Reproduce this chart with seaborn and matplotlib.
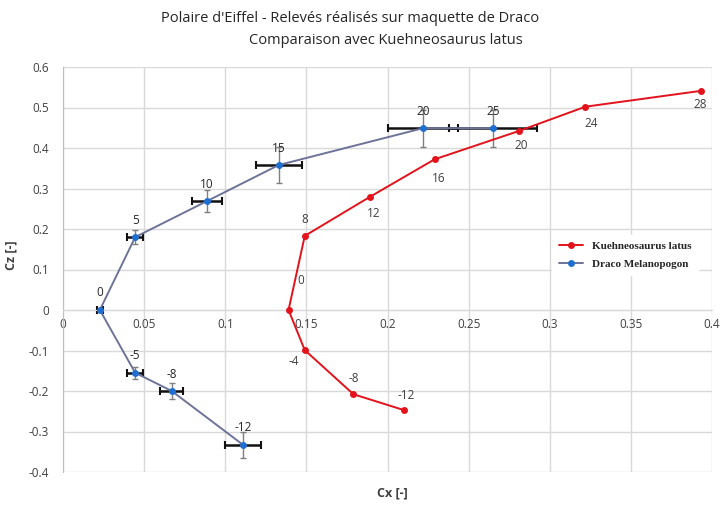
import numpy as np
import pandas as pd
import matplotlib
matplotlib.use('Agg')
import matplotlib.pyplot as plt
import seaborn as sns

# Kuehneosaurus latus (red)
red_aoa = [-12, -8, -4, 0, 8, 12, 16, 20, 24, 28]
red_cx = [0.210, 0.179, 0.149, 0.139, 0.149, 0.189, 0.229, 0.281, 0.322, 0.393]
red_cz = [-0.247, -0.208, -0.099, 0.0, 0.183, 0.279, 0.372, 0.442, 0.502, 0.541]

# Draco Melanopogon (blue)
blue_aoa = [-12, -8, -5, 0, 5, 10, 15, 20, 25]
blue_cx = [0.111, 0.067, 0.0445, 0.0227, 0.0445, 0.0888, 0.133, 0.222, 0.265]
blue_cz = [-0.333, -0.200, -0.155, 0.0, 0.180, 0.269, 0.358, 0.449, 0.449]
blue_cx_err = [0.0112, 0.007, 0.005, 0.002, 0.005, 0.0095, 0.014, 0.0215, 0.0272]
blue_cz_err = [0.032, 0.020, 0.015, 0.003, 0.018, 0.027, 0.044, 0.046, 0.046]

x_ticks = [0, 0.05, 0.1, 0.15, 0.2, 0.25, 0.3, 0.35, 0.4]
y_ticks = [-0.4, -0.3, -0.2, -0.1, 0, 0.1, 0.2, 0.3, 0.4, 0.5, 0.6]

red_df = pd.DataFrame({'aoa': red_aoa, 'Cx': red_cx, 'Cz': red_cz})
blue_df = pd.DataFrame({'aoa': blue_aoa, 'Cx': blue_cx, 'Cz': blue_cz})

sns.set_style('white')
plt.rcParams['font.family'] = ['Open Sans', 'DejaVu Sans']

fig = plt.figure(figsize=(7.24, 5.07), dpi=100)
ax = fig.add_axes([63 / 724, 1 - 472 / 507, 649 / 724, 405 / 507])

grid_c = '#d9d9d9'
ax.grid(True, color=grid_c, linewidth=1)
ax.set_axisbelow(True)

# error bars for Draco
ax.errorbar(blue_df['Cx'], blue_df['Cz'], yerr=blue_cz_err, fmt='none',
            ecolor='#7f7f7f', elinewidth=1, capsize=2, capthick=1, zorder=2)
ax.errorbar(blue_df['Cx'], blue_df['Cz'], xerr=blue_cx_err, fmt='none',
            ecolor='#111111', elinewidth=1.8, capsize=3, capthick=1.5, zorder=2)

sns.lineplot(ax=ax, data=red_df, x='Cx', y='Cz', sort=False, estimator=None,
             color='#e3121b', marker='o', markersize=5, markeredgewidth=0,
             linewidth=1.4, label='Kuehneosaurus latus', zorder=3)
sns.lineplot(ax=ax, data=blue_df, x='Cx', y='Cz', sort=False, estimator=None,
             color='#6e7399', marker='o', markersize=5, markerfacecolor='#1f6fd0',
             markeredgewidth=0, linewidth=1.4, label='Draco Melanopogon', zorder=3)

# point labels
red_offsets = [(2, 15), (0, 16), (-11, -11), (12, 29), (0, 16), (4, -16),
               (4, -19), (2, -15), (6, -17), (0, -14)]
for a, cx, cz, off in zip(red_aoa, red_cx, red_cz, red_offsets):
    ax.annotate(str(a), (cx, cz), xytext=off, textcoords='offset pixels',
                ha='center', va='center', fontsize=8.5, color='#404040')
for a, cx, cz in zip(blue_aoa, blue_cx, blue_cz):
    ax.annotate(str(a), (cx, cz), xytext=(0, 17), textcoords='offset pixels',
                ha='center', va='center', fontsize=8.5, color='#262626')

ax.set_xlim(0, 0.4)
ax.set_ylim(-0.4, 0.6)
ax.set_xticks(x_ticks)
ax.set_xticklabels([f'{t:g}' for t in x_ticks])
ax.set_yticks(y_ticks)
ax.set_yticklabels([f'{t:g}' for t in y_ticks])
ax.tick_params(axis='both', length=0, labelsize=8.5, colors='#404040')
ax.tick_params(axis='y', pad=10)
ax.tick_params(axis='x', pad=6)

ax.spines['bottom'].set_position(('data', 0))
ax.spines['bottom'].set_color(grid_c)
for s in ['top', 'right']:
    ax.spines[s].set_visible(False)
ax.spines['left'].set_color('#bfbfbf')
ax.set_xlabel('')
ax.set_ylabel('')

ax.text(0.508, -0.052, 'Cx [-]', transform=ax.transAxes, ha='center', va='center',
        fontsize=9, color='#404040', fontweight='bold')
fig.text(11 / 724, 0.497, 'Cz [-]', rotation=90, ha='center', va='center',
         fontsize=9, color='#404040', fontweight='bold')

fig.text(350 / 724, 1 - 18 / 507, "Polaire d'Eiffel - Relevés réalisés sur maquette de Draco",
         ha='center', va='center', fontsize=10.5, color='#262626')
fig.text(386 / 724, 1 - 41 / 507, 'Comparaison avec Kuehneosaurus latus',
         ha='center', va='center', fontsize=10.5, color='#262626')

leg = ax.legend(loc='upper left', bbox_to_anchor=(0.745, 0.6), frameon=True,
                prop={'family': 'Liberation Serif', 'size': 8, 'weight': 'bold'},
                handlelength=2.2, borderpad=0.6, labelspacing=0.7)
leg.get_frame().set_edgecolor('white')
leg.get_frame().set_facecolor('white')
leg.get_frame().set_alpha(1)
for t in leg.get_texts():
    t.set_color('#262626')

plt.savefig('out.png', dpi=100)
plt.close()
